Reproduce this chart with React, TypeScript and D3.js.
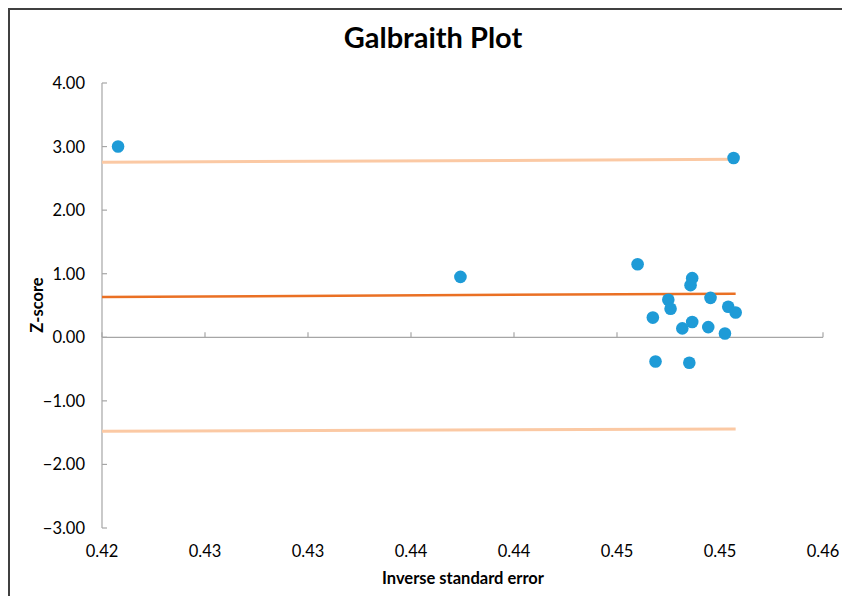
import React from "react";
import * as d3 from "d3";

const xTicks = [0.42, 0.425, 0.43, 0.435, 0.44, 0.445, 0.45, 0.455];
const yTicks = [-3, -2, -1, 0, 1, 2, 3, 4];

const precision = [0.42078, 0.45066, 0.4374, 0.446, 0.44865, 0.44857, 0.44749, 0.4476, 0.44954, 0.4504, 0.45076, 0.44674, 0.44865, 0.44817, 0.44943, 0.45024, 0.44687, 0.44851];
const zscore = [3.0, 2.82, 0.95, 1.15, 0.93, 0.82, 0.59, 0.45, 0.62, 0.48, 0.39, 0.31, 0.24, 0.14, 0.16, 0.06, -0.38, -0.4];

const lineX = [0.42, 0.45076];
const centerLine = [0.634, 0.686];
const upperLine = [2.752, 2.799];
const lowerLine = [-1.478, -1.442];

export default function App() {
  const W = 842, H = 596;
  const x = d3.scaleLinear().domain([0.42, 0.455]).range([102, 823]);
  const y = d3.scaleLinear().domain([-3, 4]).range([528, 83]);
  const font = "Lato, 'Open Sans', sans-serif";
  const line = d3.line<[number, number]>().x(d => x(d[0])).y(d => y(d[1]));
  const mk = (v: number[]) => lineX.map((lx, i) => [lx, v[i]] as [number, number]);
  const axisColor = "#a6a6a6";
  return (
    <svg width={W} height={H} style={{ position: "absolute", left: 0, top: 0 }} fontFamily={font}>
      <rect x={0} y={0} width={W} height={H} fill="#fff" />
      <path d={`M9,${H + 5}V9H${W + 5}`} fill="none" stroke="#404040" strokeWidth={2} />
      <text x={433} y={48} textAnchor="middle" fontSize={29} fontWeight="bold" fill="#000">Galbraith Plot</text>
      {/* y axis */}
      <line x1={x(0.42)} x2={x(0.42)} y1={y(4)} y2={y(-3)} stroke={axisColor} strokeWidth={1.2} />
      {yTicks.map(t => (
        <g key={"y" + t}>
          <line x1={x(0.42)} x2={x(0.42) + 5} y1={y(t)} y2={y(t)} stroke={axisColor} strokeWidth={1.2} />
          <text x={85} y={y(t) + 6} textAnchor="end" fontSize={16.5} fill="#000">{d3.format(".2f")(t)}</text>
        </g>
      ))}
      {/* x axis at zero */}
      <line x1={x(0.42)} x2={x(0.455)} y1={y(0)} y2={y(0)} stroke={axisColor} strokeWidth={1.2} />
      {xTicks.map(t => (
        <g key={"x" + t}>
          <line x1={x(t)} x2={x(t)} y1={y(0)} y2={y(0) - 5} stroke={axisColor} strokeWidth={1.2} />
          <text x={x(t)} y={557} textAnchor="middle" fontSize={16.5} fill="#000">{d3.format(".2f")(t + 1e-9)}</text>
        </g>
      ))}
      <text x={463} y={584} textAnchor="middle" fontSize={16.5} fontWeight="bold" fill="#000">Inverse standard error</text>
      <text transform={`translate(43,305) rotate(-90)`} textAnchor="middle" fontSize={16.5} fontWeight="bold" fill="#000">Z-score</text>
      {/* lines */}
      <path d={line(mk(upperLine)) || ""} stroke="#fbc9a4" strokeWidth={3} fill="none" />
      <path d={line(mk(lowerLine)) || ""} stroke="#fbc9a4" strokeWidth={3} fill="none" />
      <path d={line(mk(centerLine)) || ""} stroke="#ea7024" strokeWidth={2.5} fill="none" />
      {precision.map((p, i) => (
        <circle key={i} cx={x(p)} cy={y(zscore[i])} r={6.3} fill="#1e9bd7" />
      ))}
    </svg>
  );
}
